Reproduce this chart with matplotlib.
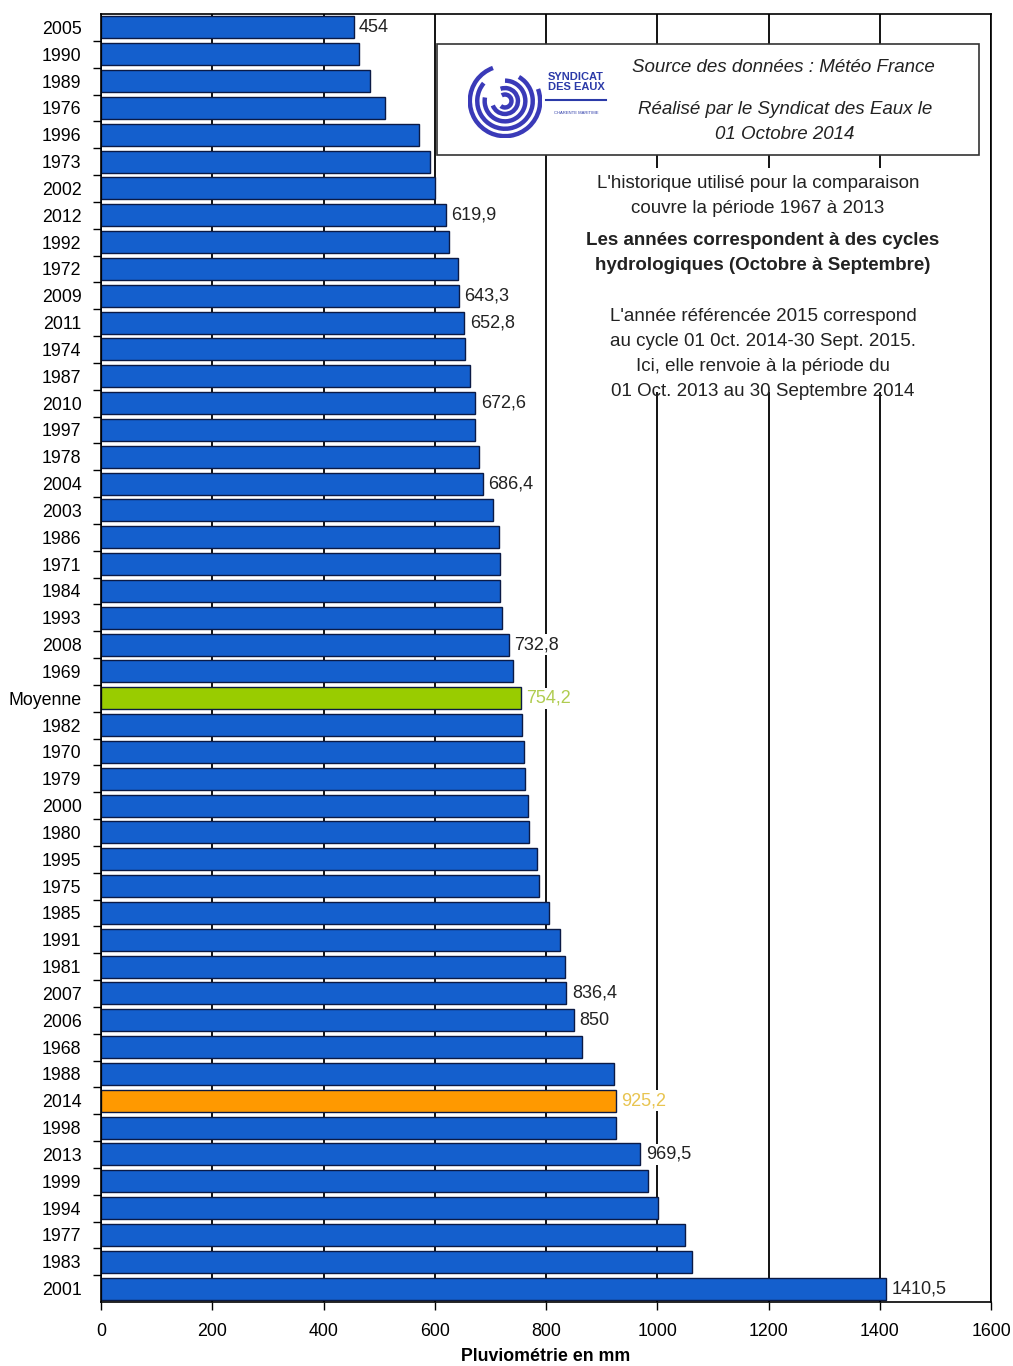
import matplotlib
matplotlib.use('Agg')
import matplotlib.pyplot as plt
from matplotlib.patches import Rectangle, Arc

plt.rcParams['font.family'] = ['Liberation Sans', 'DejaVu Sans']

categories = ['2005', '1990', '1989', '1976', '1996', '1973', '2002', '2012', '1992', '1972',
              '2009', '2011', '1974', '1987', '2010', '1997', '1978', '2004', '2003', '1986',
              '1971', '1984', '1993', '2008', '1969', 'Moyenne', '1982', '1970', '1979', '2000',
              '1980', '1995', '1975', '1985', '1991', '1981', '2007', '2006', '1968', '1988',
              '2014', '1998', '2013', '1999', '1994', '1977', '1983', '2001']
values = [454, 463, 483, 510, 571, 592, 600, 619.9, 625, 641,
          643.3, 652.8, 655, 664, 672.6, 673, 680, 686.4, 704, 715,
          718, 718, 720, 732.8, 740, 754.2, 756, 761, 762, 767,
          770, 783, 788, 806, 826, 835, 836.4, 850, 864, 923,
          925.2, 926, 969.5, 984, 1002, 1049, 1062, 1410.5]
labelled = ['2005', '2012', '2009', '2011', '2010', '2004', '2008', 'Moyenne',
            '2007', '2006', '2014', '2013', '2001']
xticks = [0, 200, 400, 600, 800, 1000, 1200, 1400, 1600]

BLUE = '#145fcd'
GREEN = '#99cc00'
ORANGE = '#ff9900'

W, H = 1013, 1366
fig = plt.figure(figsize=(W / 100, H / 100), dpi=100)


def fx(x):
    return x / W


def fy(y):
    return 1 - y / H


ax = fig.add_axes([fx(101), fy(1302), fx(991) - fx(101), fy(14) - fy(1302)])

colors = []
for c in categories:
    if c == 'Moyenne':
        colors.append(GREEN)
    elif c == '2014':
        colors.append(ORANGE)
    else:
        colors.append(BLUE)

pos = list(range(len(categories)))
ax.barh(pos, values, height=0.82, color=colors, edgecolor='#0b1a45', linewidth=1, zorder=2)

for p, c, v in zip(pos, categories, values):
    if c not in labelled:
        continue
    txt = ('%.1f' % v).replace('.', ',')
    if txt.endswith(',0'):
        txt = txt[:-2]
    col = '#222222'
    if c == 'Moyenne':
        col = '#b0cc50'
    elif c == '2014':
        col = '#e8c450'
    ax.annotate(txt, (v, p), xytext=(4, 0), textcoords='offset points',
                va='center', ha='left', fontsize=13, color=col, zorder=5,
                bbox=dict(facecolor='white', edgecolor='none', pad=1.5))

ax.set_xlim(0, 1600)
ax.set_ylim(len(categories) - 0.5, -0.5)
ax.set_xticks(xticks)
ax.set_xticklabels([str(t) for t in xticks], fontsize=12.8)
ax.set_yticks(pos)
ax.set_yticklabels(categories, fontsize=12.8)
ax.set_yticks([p + 0.5 for p in pos[:-1]], minor=True)
ax.tick_params(axis='y', which='major', length=0, pad=14)
ax.tick_params(axis='y', which='minor', length=6, width=1, direction='out')
ax.tick_params(axis='x', length=6, width=1, direction='out', pad=9)
ax.grid(axis='x', color='black', linewidth=1.3, zorder=0)
ax.set_axisbelow(True)
for s in ax.spines.values():
    s.set_color('black')
    s.set_linewidth(1.2)
ax.set_xlabel('Pluviométrie en mm', fontsize=12.8, fontweight='bold', labelpad=6)

# source box with logo
fig.add_artist(Rectangle((fx(437), fy(155)), fx(979) - fx(437), fy(44) - fy(155),
                         transform=fig.transFigure, facecolor='white',
                         edgecolor='#333333', linewidth=1.2, zorder=3))
fig.text(fx(783), fy(67), 'Source des données : Météo France', fontsize=13.5,
         style='italic', ha='center', va='center', color='#222222', zorder=4)
fig.text(fx(785), fy(122), 'Réalisé par le Syndicat des Eaux le\n01 Octobre 2014',
         fontsize=13.5, style='italic', ha='center', va='center', color='#222222',
         linespacing=1.6, zorder=4)

logo = fig.add_axes([fx(468), fy(138), fx(74), fx(74) * W / H])
logo.set_xlim(-1, 1)
logo.set_ylim(-1, 1)
logo.set_aspect('equal')
logo.axis('off')
logo.set_zorder(5)
for r, (a1, a2) in zip([1.9, 1.5, 1.1, 0.7, 0.35],
                       [(110, 380), (140, 420), (170, 450), (200, 470), (230, 480)]):
    logo.add_patch(Arc((0, 0), r, r, theta1=a1, theta2=a2, color='#3a3ab8', linewidth=3.2))
fig.text(fx(576), fy(82), 'SYNDICAT\nDES EAUX', fontsize=8, fontweight='bold',
         ha='center', va='center', color='#2b3aa8', linespacing=0.9, zorder=5)
fig.add_artist(plt.Line2D([fx(546), fx(606)], [fy(100), fy(100)], transform=fig.transFigure,
                          color='#2b3aa8', linewidth=1.5, zorder=5))
fig.text(fx(576), fy(113), 'CHARENTE MARITIME', fontsize=3, ha='center', va='center',
         color='#2b3aa8', zorder=5)

# explanatory text
fig.add_artist(Rectangle((fx(572), fy(392)), fx(962) - fx(572), fy(168) - fy(392),
                         transform=fig.transFigure, facecolor='white', edgecolor='none',
                         zorder=3))
fig.text(fx(758), fy(196), "L'historique utilisé pour la comparaison\ncouvre la période 1967 à 2013",
         fontsize=13.5, ha='center', va='center', color='#222222', linespacing=1.6, zorder=4)
fig.text(fx(763), fy(253), 'Les années correspondent à des cycles\nhydrologiques (Octobre à Septembre)',
         fontsize=13.5, fontweight='bold', ha='center', va='center', color='#222222',
         linespacing=1.6, zorder=4)
fig.text(fx(763), fy(354), "L'année référencée 2015 correspond\nau cycle 01 0ct. 2014-30 Sept. 2015.\n"
         "Ici, elle renvoie à la période du\n01 Oct. 2013 au 30 Septembre 2014",
         fontsize=13.5, ha='center', va='center', color='#222222', linespacing=1.6, zorder=4)

fig.savefig('out.png', dpi=100, facecolor='white')
